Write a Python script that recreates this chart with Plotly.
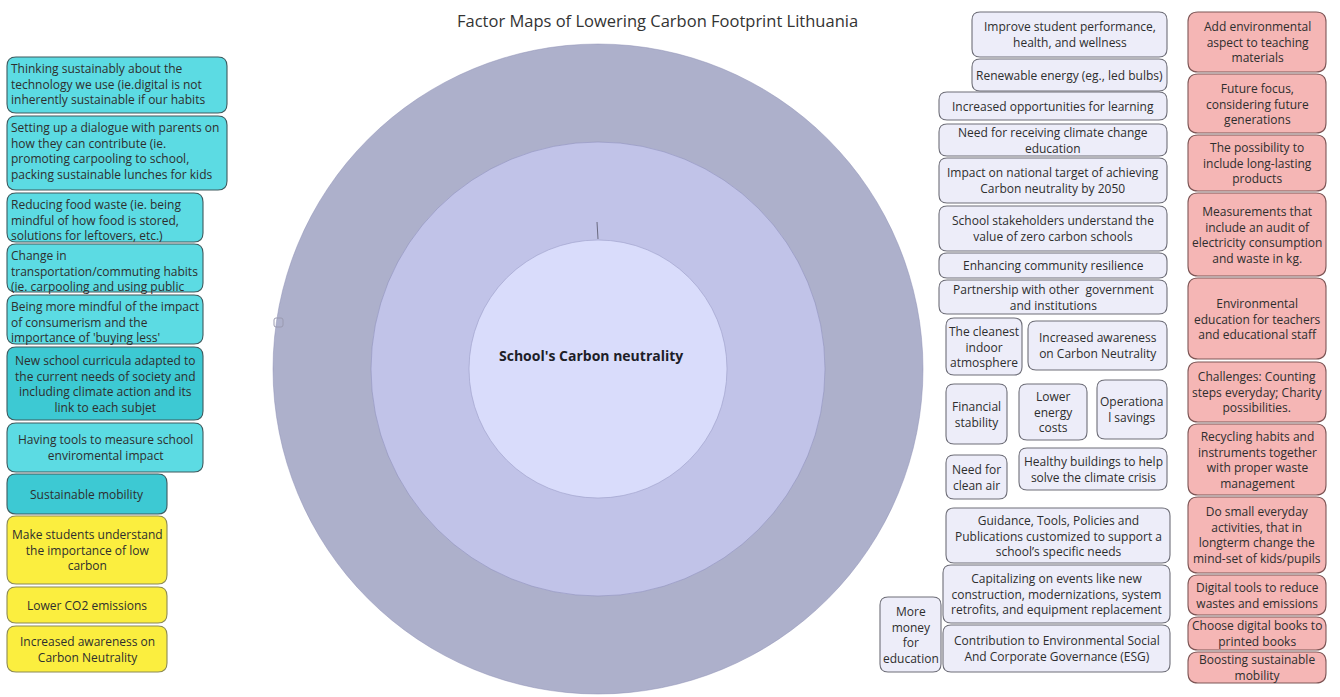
import plotly.graph_objects as go

# ---------------- data (texts) ----------------
title_text = "Factor Maps of Lowering Carbon Footprint Lithuania"
center_label = "School's Carbon neutrality"

ring_names = ["outer", "middle", "inner"]

left_texts = [
    "Thinking sustainably about the<br>technology we use (ie.digital is not<br>inherently sustainable if our habits",
    "Setting up a dialogue with parents on<br>how they can contribute (ie.<br>promoting carpooling to school,<br>packing sustainable lunches for kids",
    "Reducing food waste (ie. being<br>mindful of how food is stored,<br>solutions for leftovers, etc.)",
    "Change in<br>transportation/commuting habits<br>(ie. carpooling and using public",
    "Being more mindful of the impact<br>of consumerism and the<br>importance of 'buying less'",
    "New school curricula adapted to<br>the current needs of society and<br>including climate action and its<br>link to each subjet",
    "Having tools to measure school<br>enviromental impact",
    "Sustainable mobility",
    "Make students understand<br>the importance of low<br>carbon",
    "Lower CO2 emissions",
    "Increased awareness on<br>Carbon Neutrality",
]

middle_texts = [
    "Improve student performance,<br>health, and wellness",
    "Renewable energy (eg., led bulbs)",
    "Increased opportunities for learning",
    "Need for receiving climate change<br>education",
    "Impact on national target of achieving<br>Carbon neutrality by 2050",
    "School stakeholders understand the<br>value of zero carbon schools",
    "Enhancing community resilience",
    "Partnership with other  government<br>and institutions",
    "The cleanest<br>indoor<br>atmosphere",
    "Increased awareness<br>on Carbon Neutrality",
    "Financial<br>stability",
    "Lower<br>energy<br>costs",
    "Operationa<br>l savings",
    "Need for<br>clean air",
    "Healthy buildings to help<br>solve the climate crisis",
    "Guidance, Tools, Policies and<br>Publications customized to support a<br>school\u2019s specific needs",
    "Capitalizing on events like new<br>construction, modernizations, system<br>retrofits, and equipment replacement",
    "Contribution to Environmental Social<br>And Corporate Governance (ESG)",
    "More<br>money<br>for<br>education",
]

right_texts = [
    "Add environmental<br>aspect to teaching<br>materials",
    "Future focus,<br>considering future<br>generations",
    "The possibility to<br>include long-lasting<br>products",
    "Measurements that<br>include an audit of<br>electricity consumption<br>and waste in kg.",
    "Environmental<br>education for teachers<br>and educational staff",
    "Challenges: Counting<br>steps everyday; Charity<br>possibilities.",
    "Recycling habits and<br>instruments together<br>with proper waste<br>management",
    "Do small everyday<br>activities, that in<br>longterm change the<br>mind-set of kids/pupils",
    "Digital tools to reduce<br>wastes and emissions",
    "Choose digital books to<br>printed books",
    "Boosting sustainable<br>mobility",
]

# ---------------- layout (positions, sizes, styles) ----------------
W, H = 1340, 697
ring_center = (598, 369)
ring_radius = [325, 227, 129]
ring_fill = ["#ADB0CB", "#C1C3E8", "#D9DCFB"]
ring_line = ["rgba(140,142,180,0.6)", "rgba(140,142,185,0.7)", "rgba(150,152,195,0.7)"]

left_boxes = [
    (7, 57, 227, 113), (7, 116, 227, 190), (7, 193, 203, 242), (7, 244, 203, 292),
    (7, 295, 203, 344), (7, 347, 203, 420), (7, 423, 203, 472), (7, 474, 167, 514),
    (7, 516, 167, 584), (7, 587, 167, 623), (7, 626, 167, 672),
]
left_align = ["left"] * 5 + ["center"] * 6
left_fill = ["#5CDBE3"] * 5 + ["#3DC9D3", "#5CDBE3", "#3DC9D3"] + ["#FBEE3F"] * 3
left_line = ["#3E5A5E"] * 8 + ["#8C8A55"] * 3

middle_boxes = [
    (972, 12, 1167, 57), (972, 59, 1167, 91), (939, 92, 1167, 120), (939, 124, 1167, 156),
    (939, 158, 1167, 203), (939, 206, 1167, 251), (939, 253, 1167, 278), (939, 280, 1167, 314),
    (946, 318, 1022, 375), (1028, 321, 1167, 370), (946, 384, 1007, 444), (1019, 384, 1087, 440),
    (1097, 380, 1167, 439), (946, 455, 1007, 499), (1019, 448, 1167, 490),
    (946, 508, 1170, 563), (943, 565, 1170, 623), (943, 625, 1170, 672), (880, 597, 941, 672),
]
middle_fill = "#EDEDF9"
middle_line = "#6E6E78"

right_boxes = [
    (1188, 12, 1326, 72), (1188, 74, 1326, 133), (1188, 135, 1326, 191), (1188, 193, 1326, 276),
    (1188, 278, 1326, 359), (1188, 362, 1326, 422), (1188, 424, 1326, 495), (1188, 497, 1326, 573),
    (1188, 575, 1326, 615), (1188, 617, 1326, 650), (1188, 652, 1326, 683),
]
right_fill = "#F5B6B5"
right_line = "#7E5656"

FONT = "Open Sans, Noto Sans, sans-serif"
TEXT_COLOR = "#2E2E2E"
BOX_FONT_SIZE = 12


def rrect(x0, y0, x1, y1, r):
    r = min(r, (x1 - x0) / 2, (y1 - y0) / 2)
    return (
        f"M{x0 + r},{y0} L{x1 - r},{y0} Q{x1},{y0} {x1},{y0 + r} "
        f"L{x1},{y1 - r} Q{x1},{y1} {x1 - r},{y1} L{x0 + r},{y1} "
        f"Q{x0},{y1} {x0},{y1 - r} L{x0},{y0 + r} Q{x0},{y0} {x0 + r},{y0} Z"
    )


fig = go.Figure()
# invisible trace to establish axes
fig.add_trace(go.Scatter(x=[0, W], y=[0, H], mode="markers",
                         marker=dict(opacity=0), hoverinfo="skip", showlegend=False))

shapes = []
annotations = []

# rings
cx, cy = ring_center
for name, r, fc, lc in zip(ring_names, ring_radius, ring_fill, ring_line):
    shapes.append(dict(type="circle", xref="x", yref="y",
                       x0=cx - r, y0=cy - r, x1=cx + r, y1=cy + r,
                       fillcolor=fc, line=dict(color=lc, width=0.8), layer="below"))

# small tick and small square decorations
shapes.append(dict(type="line", xref="x", yref="y", x0=597, y0=222, x1=598, y1=239,
                   line=dict(color="#6A6A80", width=1)))
shapes.append(dict(type="path", xref="x", yref="y", path=rrect(274, 318, 283, 327, 2),
                   fillcolor="rgba(0,0,0,0)", line=dict(color="#9A9AB0", width=1)))


def add_box(text, box, fill, line, align="center", radius=8):
    x0, y0, x1, y1 = box
    shapes.append(dict(type="path", xref="x", yref="y", path=rrect(x0, y0, x1, y1, radius),
                       fillcolor=fill, line=dict(color=line, width=1.1)))
    if align == "left":
        annotations.append(dict(x=x0 + 2, y=y0 + 1, xref="x", yref="y", text=text,
                                showarrow=False, xanchor="left", yanchor="top", align="left",
                                font=dict(family=FONT, size=BOX_FONT_SIZE, color=TEXT_COLOR)))
    else:
        annotations.append(dict(x=(x0 + x1) / 2, y=(y0 + y1) / 2, xref="x", yref="y", text=text,
                                showarrow=False, xanchor="center", yanchor="middle", align="center",
                                font=dict(family=FONT, size=BOX_FONT_SIZE, color=TEXT_COLOR)))


for t, b, a, fc, lc in zip(left_texts, left_boxes, left_align, left_fill, left_line):
    add_box(t, b, fc, lc, a, radius=9)
for t, b in zip(middle_texts, middle_boxes):
    add_box(t, b, middle_fill, middle_line, "center", radius=8)
for t, b in zip(right_texts, right_boxes):
    add_box(t, b, right_fill, right_line, "center", radius=10)

# center label
annotations.append(dict(x=591, y=355, xref="x", yref="y", text=f"<b>{center_label}</b>",
                        showarrow=False, xanchor="center", yanchor="middle",
                        font=dict(family=FONT, size=14, color="#1E1E28")))
# title
annotations.append(dict(x=657, y=20, xref="x", yref="y", text=title_text,
                        showarrow=False, xanchor="center", yanchor="middle",
                        font=dict(family=FONT, size=16.5, color="#333333")))

fig.update_layout(
    width=W, height=H, autosize=False,
    margin=dict(l=0, r=0, t=0, b=0, pad=0),
    paper_bgcolor="white", plot_bgcolor="white",
    xaxis=dict(range=[0, W], visible=False, fixedrange=True),
    yaxis=dict(range=[H, 0], visible=False, fixedrange=True),
    shapes=shapes, annotations=annotations, showlegend=False,
)

fig.write_html("out.html", config={"displayModeBar": False},
               post_script="document.body.style.margin='0';document.body.style.overflow='hidden';")
